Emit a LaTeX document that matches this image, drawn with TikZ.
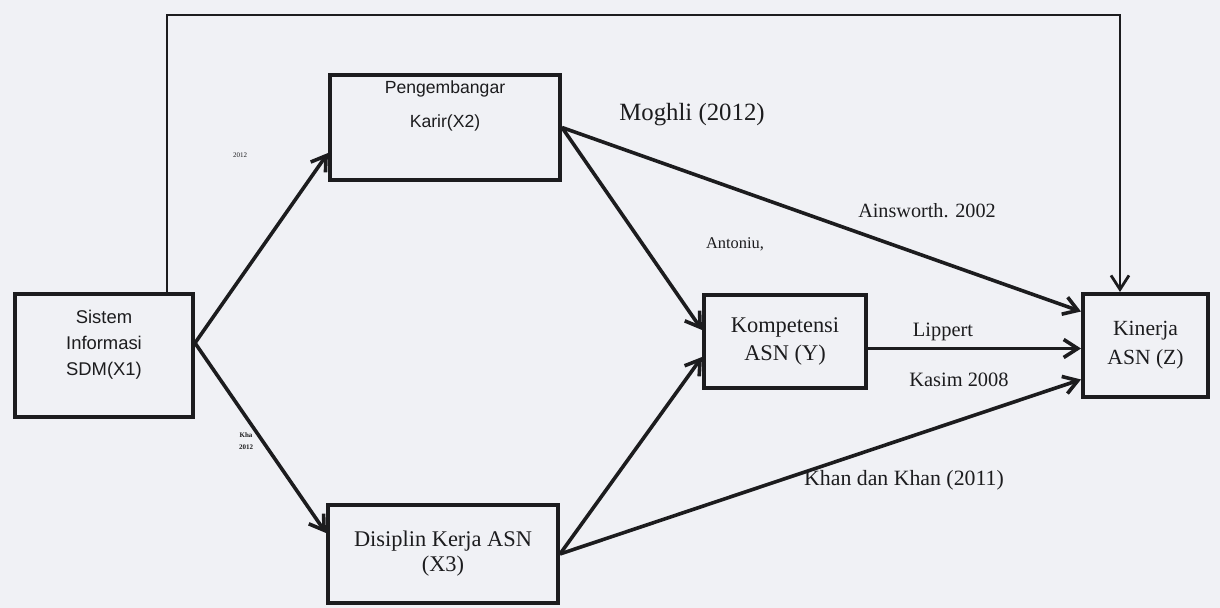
\documentclass[tikz,border=0pt]{standalone}
\usepackage{fontspec}
\setmainfont{Liberation Serif}
\setsansfont{Liberation Sans}
\usetikzlibrary{arrows.meta,positioning,calc}
\definecolor{paper}{RGB}{240,241,245}
\definecolor{ink}{RGB}{28,28,30}
\newcommand{\fsz}[2]{\fontsize{#1}{#2}\selectfont}

\begin{document}
\begin{tikzpicture}[x=0.5pt,y=-0.5pt,>={Straight Barb[length=7pt,width=9pt]},
    box/.style={draw=ink,line width=2pt,rectangle,inner sep=0pt,align=center,text=ink},
    arr/.style={->,draw=ink,line width=1.8pt},
    lbl/.style={text=ink,inner sep=0pt,align=center}]
  \fill[paper] (0,0) rectangle (1220,608);
  \useasboundingbox (0,0) rectangle (1220,608);

  % boxes
  \node[box,minimum width=89pt,minimum height=61.5pt] (x1) at (104,355.5) {};
  \node[lbl,font=\sffamily\fsz{9.2}{13},below=9pt of x1.north] {Sistem\\Informasi\\SDM(X1)};
  \node[box,minimum width=115pt,minimum height=52.5pt] (x2) at (445,127.5) {};
  \node[lbl,font=\sffamily\fsz{8.8}{17},below=3.5pt of x2.north] {Pengembangar\\Karir(X2)};
  \node[box,minimum width=115pt,minimum height=49pt,font=\fsz{11.2}{12.5}] (x3) at (443,554) {Disiplin Kerja ASN\\(X3)};
  \node[box,minimum width=81pt,minimum height=46.5pt,font=\fsz{11.2}{14}] (y) at (785,341.5) {Kompetensi\\ASN (Y)};
  \node[box,minimum width=62.5pt,minimum height=51.5pt,font=\fsz{10.8}{14.5}] (z) at (1145.5,345.5) {Kinerja\\ASN (Z)};

  % connectors
  \coordinate (hub) at ([yshift=6.25pt]x1.east);
  \coordinate (top) at (0,15);
  \draw[arr] (hub) -- ([yshift=-12.75pt]x2.west);
  \draw[arr] (hub) -- ([yshift=10.5pt]x3.west);
  \draw[arr] (x2.east) -- ([yshift=5.75pt]y.west);
  \draw[arr] (x2.east) -- ([yshift=17pt]z.west);
  \draw[arr] (x3.east) -- ([yshift=-7.75pt]y.west);
  \draw[arr] (x3.east) -- ([yshift=-17pt]z.west);
  \draw[arr] ([yshift=-3.5pt]y.east) -- ([yshift=-3.5pt]y.east -| z.west);
  \draw[arr,line width=1.4pt] ([xshift=31.5pt]x1.north) coordinate (t1) -- (t1 |- top) -| ([xshift=-12.75pt]z.north);

  % labels
  \node[lbl,font=\fsz{12.4}{14}] (moghli) at (692,115) {Moghli (2012)};
  \node[lbl,font=\fsz{10.1}{12}] (ains) at (927,211) {Ainsworth. 2002};
  \node[lbl,font=\fsz{8.2}{10}] (anton) at (735,244) {Antoniu,};
  \node[lbl,font=\fsz{10.2}{12}] (lipp) at (943,332) {Lippert};
  \node[lbl,font=\fsz{10.2}{12}] (kasim) at (959,380) {Kasim 2008};
  \node[lbl,font=\fsz{10.9}{12}] (khan) at (904,480) {Khan dan Khan (2011)};
  \node[lbl,font=\fsz{3.5}{4}] (tiny1) at (240,155) {2012};
  \node[lbl,font=\bfseries\fsz{3.5}{6}] (tiny2) at (246,441) {Kha\\2012};
\end{tikzpicture}
\end{document}
